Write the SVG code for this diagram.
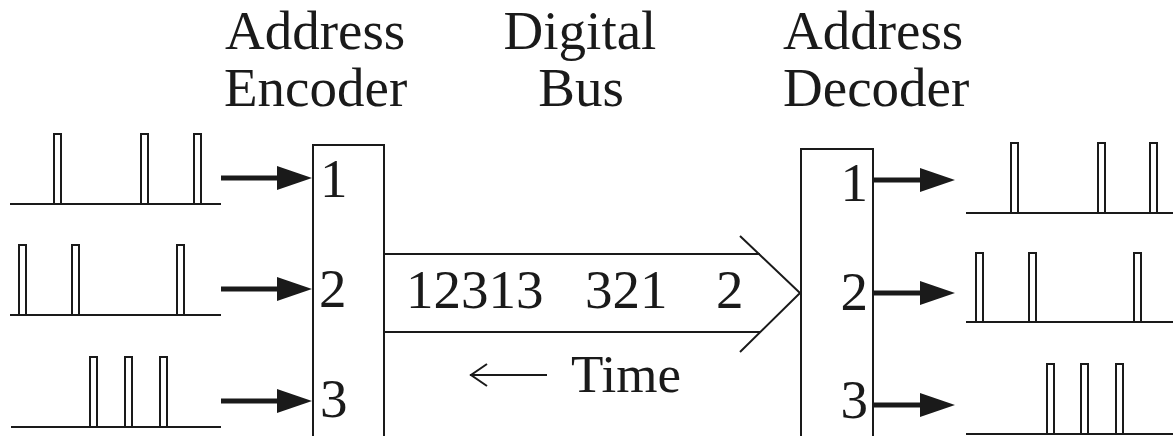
<svg xmlns="http://www.w3.org/2000/svg" width="1173" height="436" viewBox="0 0 1173 436">
<style>
.t{font-family:"Liberation Serif","Times New Roman",serif;fill:#1a1a1a;}
.title{font-size:55px;}
.num{font-size:55px;}
.ln{stroke:#1a1a1a;stroke-width:2;fill:none;}
.pulse{stroke:#1a1a1a;stroke-width:2;fill:#fff;}
.arr{stroke:#1a1a1a;stroke-width:5;fill:none;}
</style>
<defs>
<marker id="head" markerUnits="userSpaceOnUse" viewBox="0 0 35 24" markerWidth="35" markerHeight="24" refX="3" refY="12" orient="auto">
<path d="M0,0 L35,12 L0,24 z" fill="#1a1a1a"/>
</marker>
</defs>
<rect width="1173" height="436" fill="#fff"/>

<g id="titles">
<text class="t title" x="225" y="49">Address</text>
<text class="t title" x="224" y="106">Encoder</text>
<text class="t title" x="580" y="49" text-anchor="middle">Digital</text>
<text class="t title" x="581" y="106" text-anchor="middle">Bus</text>
<text class="t title" x="783" y="49">Address</text>
<text class="t title" x="783" y="106">Decoder</text>
</g>

<g id="input-signals">
<line class="ln" x1="10" y1="204" x2="221" y2="204"/>
<rect class="pulse" x="54" y="134" width="7" height="70"/>
<rect class="pulse" x="141" y="134" width="7" height="70"/>
<rect class="pulse" x="194" y="134" width="7" height="70"/>
<line class="ln" x1="10" y1="315" x2="221" y2="315"/>
<rect class="pulse" x="19" y="245" width="7" height="70"/>
<rect class="pulse" x="72" y="245" width="7" height="70"/>
<rect class="pulse" x="177" y="245" width="7" height="70"/>
<line class="ln" x1="11" y1="427" x2="221" y2="427"/>
<rect class="pulse" x="90" y="357" width="7" height="70"/>
<rect class="pulse" x="125" y="357" width="7" height="70"/>
<rect class="pulse" x="160" y="357" width="7" height="70"/>
</g>

<g id="encoder">
<path class="ln" d="M313,440 L313,145 L384,145 L384,440"/>
<text class="t num" x="320" y="197">1</text>
<text class="t num" x="319" y="307">2</text>
<text class="t num" x="320" y="417">3</text>
</g>

<g id="bus">
<line class="ln" x1="384" y1="254" x2="760" y2="254"/>
<line class="ln" x1="384" y1="332" x2="760" y2="332"/>
<polyline class="ln" points="740,236 800,293 740,352"/>
<text class="t num" y="308"><tspan x="406">12313</tspan><tspan x="585">321</tspan><tspan x="716">2</tspan></text>
</g>

<g id="time">
<line class="ln" x1="470" y1="375" x2="547" y2="375"/>
<polyline class="ln" points="487,364 471,375 487,386"/>
<text class="t" x="571" y="392" font-size="53">Time</text>
</g>

<g id="decoder">
<path class="ln" d="M801,440 L801,149 L873,149 L873,440"/>
<text class="t num" x="868" y="201" text-anchor="end">1</text>
<text class="t num" x="868" y="310" text-anchor="end">2</text>
<text class="t num" x="868" y="418" text-anchor="end">3</text>
</g>

<g id="output-signals">
<line class="ln" x1="966" y1="213" x2="1173" y2="213"/>
<rect class="pulse" x="1011" y="143" width="7" height="70"/>
<rect class="pulse" x="1098" y="143" width="7" height="70"/>
<rect class="pulse" x="1150" y="143" width="7" height="70"/>
<line class="ln" x1="966" y1="322" x2="1173" y2="322"/>
<rect class="pulse" x="976" y="253" width="7" height="69"/>
<rect class="pulse" x="1029" y="253" width="7" height="69"/>
<rect class="pulse" x="1134" y="253" width="7" height="69"/>
<line class="ln" x1="966" y1="434" x2="1173" y2="434"/>
<rect class="pulse" x="1047" y="364" width="7" height="70"/>
<rect class="pulse" x="1081" y="364" width="7" height="70"/>
<rect class="pulse" x="1116" y="364" width="7" height="70"/>
</g>

<g id="connectors">
<line class="arr" x1="221" y1="178" x2="280" y2="178" marker-end="url(#head)"/>
<line class="arr" x1="221" y1="289" x2="280" y2="289" marker-end="url(#head)"/>
<line class="arr" x1="221" y1="401" x2="280" y2="401" marker-end="url(#head)"/>
<line class="arr" x1="873" y1="180" x2="923" y2="180" marker-end="url(#head)"/>
<line class="arr" x1="873" y1="293" x2="923" y2="293" marker-end="url(#head)"/>
<line class="arr" x1="873" y1="405" x2="923" y2="405" marker-end="url(#head)"/>
</g>
</svg>
